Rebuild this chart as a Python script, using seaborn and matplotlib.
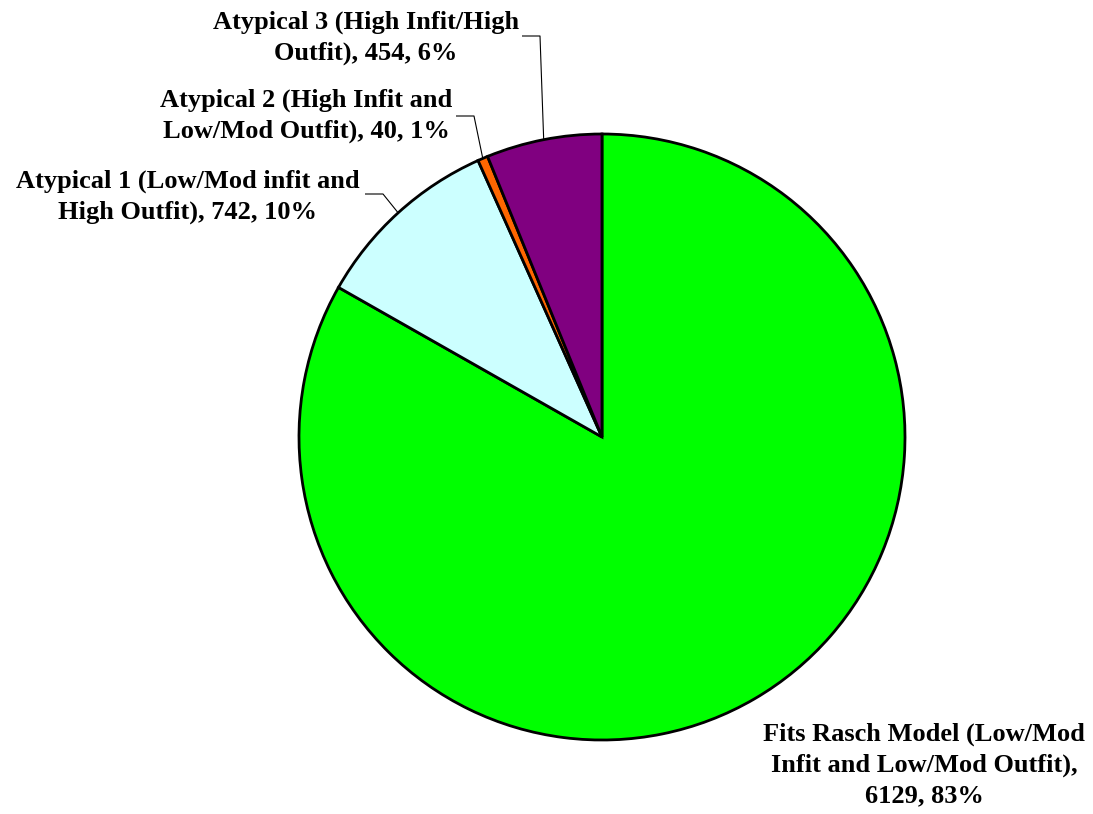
import numpy as np
import matplotlib
matplotlib.use("Agg")
import matplotlib.pyplot as plt
import seaborn as sns

# Person fit categories
categories = [
    "Fits Rasch Model (Low/Mod\nInfit and Low/Mod Outfit),\n6129, 83%",
    "Atypical 1 (Low/Mod infit and\nHigh Outfit), 742, 10%",
    "Atypical 2 (High Infit and\nLow/Mod Outfit), 40, 1%",
    "Atypical 3 (High Infit/High\nOutfit), 454, 6%",
]
counts = [6129, 742, 40, 454]
colors = ["#00FF00", "#CCFFFF", "#FF6600", "#800080"]

sns.set_theme(style="white")
plt.rcParams["font.family"] = ["Liberation Serif", "DejaVu Serif"]

W, H = 1093, 814
fig = plt.figure(figsize=(W / 100, H / 100), dpi=100)
ax = fig.add_axes([0, 0, 1, 1])

cx, cy, r = 602, H - 437, 303
wedges, _ = ax.pie(
    counts, colors=colors, startangle=90, counterclock=False,
    center=(cx, cy), radius=r,
    wedgeprops=dict(edgecolor="black", linewidth=2.0),
)
ax.set_xlim(0, W)
ax.set_ylim(0, H)
ax.set_aspect("equal")
ax.axis("off")

# label anchor (text centre) and leader start point for each slice
label_pos = [(924, H - 765), (188, H - 197), (306, H - 116), (366, H - 38)]
leader_start = [None, (365, H - 194), (456, H - 116), (522, H - 36)]
leader_elbow = [None, (383, H - 194), (474, H - 116), (540, H - 36)]

for w, text, pos, s, e in zip(wedges, categories, label_pos, leader_start, leader_elbow):
    ax.text(pos[0], pos[1], text, ha="center", va="center", fontsize=19,
            fontweight="bold", linespacing=1.42, color="black")
    if s is None:
        continue
    mid = np.deg2rad((w.theta1 + w.theta2) / 2)
    px, py = cx + r * np.cos(mid), cy + r * np.sin(mid)
    ax.plot([s[0], e[0], px], [s[1], e[1], py], color="black", lw=0.8,
            solid_capstyle="butt", zorder=0)

fig.savefig("out.png", dpi=100, facecolor="white")
